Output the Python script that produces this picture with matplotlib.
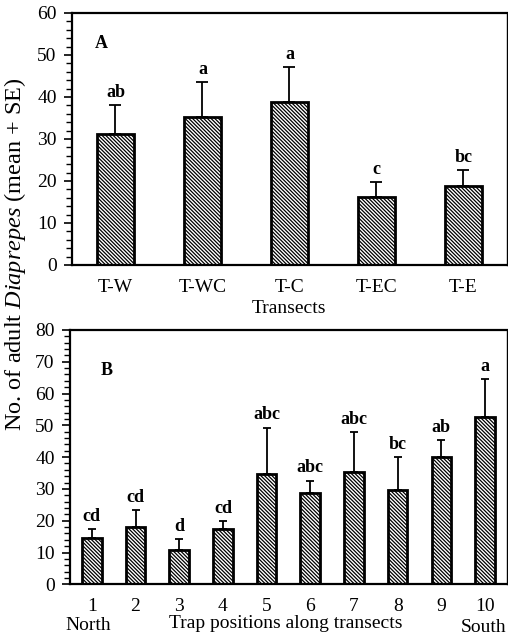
import matplotlib.pyplot as plt
from matplotlib.ticker import MultipleLocator

plt.rcParams['font.family'] = ['Liberation Serif', 'DejaVu Serif']
plt.rcParams['mathtext.fontset'] = 'custom'
plt.rcParams['mathtext.rm'] = 'Liberation Serif'
plt.rcParams['mathtext.it'] = 'Liberation Serif:italic'
plt.rcParams['hatch.linewidth'] = 0.9

# Panel A: transects
transects = ['T-W', 'T-WC', 'T-C', 'T-EC', 'T-E']
transect_mean = [31.2, 35.3, 38.9, 16.1, 18.8]
transect_se = [6.9, 8.3, 8.3, 3.7, 3.7]
transect_letters = ['ab', 'a', 'a', 'c', 'bc']

# Panel B: trap positions
positions = ['1', '2', '3', '4', '5', '6', '7', '8', '9', '10']
position_mean = [14.5, 18.1, 10.8, 17.4, 34.7, 28.6, 35.2, 29.7, 40.1, 52.7]
position_se = [2.9, 5.3, 3.5, 2.4, 14.6, 4.0, 12.8, 10.4, 5.3, 11.8]
position_letters = ['cd', 'cd', 'd', 'cd', 'abc', 'abc', 'abc', 'bc', 'ab', 'a']


def draw_panel(ax, x, means, ses, letters, width, capsize, ymax):
    ax.bar(x, means, width=width, color='white', edgecolor='black',
           linewidth=2, hatch='\\' * 9, zorder=2)
    ax.errorbar(x, means, yerr=[[0] * len(means), ses], fmt='none',
                ecolor='black', elinewidth=1.3, capsize=capsize,
                capthick=1.3, zorder=1)
    for xi, m, s, lab in zip(x, means, ses, letters):
        ax.annotate(lab, (xi, m + s), xytext=(0, 3), textcoords='offset points',
                    ha='center', va='bottom', fontsize=13, fontweight='bold')
    ax.set_ylim(0, ymax)
    ax.yaxis.set_major_locator(MultipleLocator(10))
    ax.yaxis.set_minor_locator(MultipleLocator(2))
    ax.tick_params(axis='y', which='major', direction='out', length=6,
                   width=1.2, labelsize=14, pad=5)
    ax.tick_params(axis='y', which='minor', direction='out', length=4, width=1)
    ax.tick_params(axis='x', length=0, labelsize=14, pad=10)
    for side in ['left', 'bottom', 'top']:
        ax.spines[side].set_linewidth(1.6)
    ax.spines['right'].set_linewidth(1.0)


fig = plt.figure(figsize=(5.08, 6.39), dpi=100)

ax1 = fig.add_axes([0.1417, 0.5853, 0.856, 0.3944])
xa = list(range(len(transects)))
draw_panel(ax1, xa, transect_mean, transect_se, transect_letters, 0.43, 4, 60)
ax1.set_xlim(-0.5, 4.5)
ax1.set_xticks(xa)
ax1.set_xticklabels(transects)
ax1.set_xlabel('Transects', fontsize=14, labelpad=3)
ax1.text(0.053, 0.88, 'A', transform=ax1.transAxes, fontsize=13,
         fontweight='bold', va='center')

ax2 = fig.add_axes([0.1378, 0.0856, 0.860, 0.398])
xb = list(range(1, len(positions) + 1))
draw_panel(ax2, xb, position_mean, position_se, position_letters, 0.45, 3, 80)
ax2.set_xlim(0.5, 10.5)
ax2.set_xticks(xb)
ax2.set_xticklabels(positions)
ax2.text(0.069, 0.84, 'B', transform=ax2.transAxes, fontsize=13,
         fontweight='bold', va='center')

fig.text(88 / 508, 1 - 625 / 639, 'North', fontsize=14, ha='center', va='center')
fig.text(286 / 508, 1 - 623 / 639, 'Trap positions along transects',
         fontsize=14, ha='center', va='center')
fig.text(484 / 508, 1 - 628 / 639, 'South', fontsize=14, ha='center', va='center')

fig.text(15 / 508, 1 - 254 / 639, r'No. of adult $\it{Diaprepes}$ (mean + SE)',
         fontsize=17.5, rotation=90, ha='center', va='center')

fig.savefig('out.png', dpi=100)
